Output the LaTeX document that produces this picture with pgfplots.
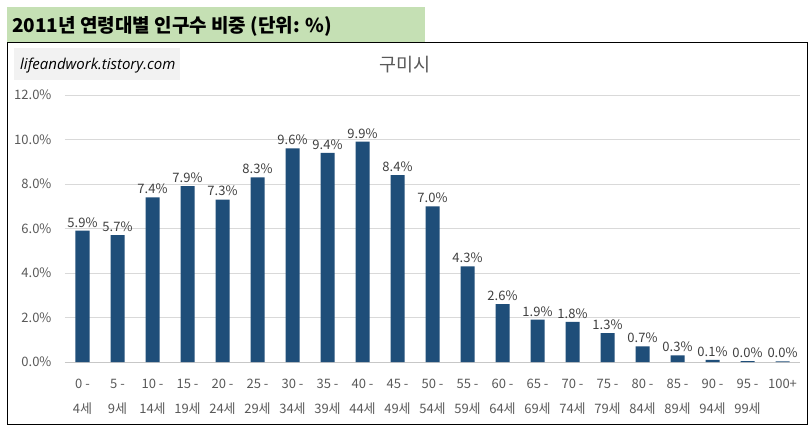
\documentclass[border=0pt]{standalone}
\usepackage{pgfplots}
\pgfplotsset{compat=1.18}
\usepackage{fontspec}
\setmainfont{Noto Sans CJK KR}
\newfontfamily\wmfont{Open Sans}
\definecolor{barblue}{HTML}{1F4E79}
\definecolor{bannergreen}{HTML}{C5E0B4}
\definecolor{gridgray}{HTML}{D9D9D9}
\definecolor{labgray}{HTML}{595959}
\definecolor{datgray}{HTML}{404040}
\definecolor{wmgray}{HTML}{F2F2F2}
\begin{document}
\begin{tikzpicture}[x=1pt,y=1pt]
\path[use as bounding box] (0,0) rectangle (811,432);
\fill[white] (0,0) rectangle (811,432);
\fill[bannergreen] (7,389) rectangle (425,425);
\node[anchor=west,inner sep=0pt,font=\fontsize{19}{22}\selectfont\bfseries] at (12,406) {2011년 연령대별 인구수 비중 (단위: \%)};
\draw[black,line width=1pt] (7,8) rectangle (807,389);
\fill[wmgray] (14,352) rectangle (180,384);
\node[anchor=west,inner sep=0pt,font=\wmfont\itshape\fontsize{15}{18}\selectfont] at (20,366) {lifeandwork.tistory.com};
\node[font=\fontsize{18.5}{22}\selectfont,text=labgray] at (405,367) {구미시};
\begin{axis}[
  at={(65pt,70pt)}, anchor=south west,
  scale only axis, width=735pt, height=267pt,
  xmin=-0.5, xmax=20.5, ymin=0, ymax=12,
  axis line style={draw=none},
  axis x line*=bottom,
  ytick={0,2,4,6,8,10,12},
  ymajorgrids, grid style={gridgray, line width=0.8pt},
  major tick length=0pt,
  /pgf/number format/assume math mode=true,
  yticklabel={\pgfmathprintnumber[fixed,fixed zerofill,precision=1]{\tick}\%},
  yticklabel style={font=\fontsize{13}{15}\selectfont, text=labgray, xshift=-10pt},
  xtick={0,...,20},
  xticklabels={{0 -\\4세},{5 -\\9세},{10 -\\14세},{15 -\\19세},{20 -\\24세},{25 -\\29세},{30 -\\34세},{35 -\\39세},{40 -\\44세},{45 -\\49세},{50 -\\54세},{55 -\\59세},{60 -\\64세},{65 -\\69세},{70 -\\74세},{75 -\\79세},{80 -\\84세},{85 -\\89세},{90 -\\94세},{95 -\\99세},{100+\\\phantom{0}}},
  xticklabel style={font=\fontsize{13}{25}\selectfont, text=labgray, align=center, yshift=-14pt},
  ybar, bar width=14pt,
  nodes near coords={\pgfmathprintnumber[fixed,fixed zerofill,precision=1]{\pgfplotspointmeta}\%},
  nodes near coords style={font=\fontsize{13}{15}\selectfont, text=datgray, /pgf/number format/assume math mode=true},
  clip=false,
]
\draw[gridgray!80!gray, line width=0.8pt] (axis cs:-0.5,0) -- (axis cs:20.5,0);
\addplot[fill=barblue, draw=none] coordinates {
(0,5.9) (1,5.7) (2,7.4) (3,7.9) (4,7.3) (5,8.3) (6,9.6) (7,9.4) (8,9.9) (9,8.4)
(10,7.0) (11,4.3) (12,2.6) (13,1.9) (14,1.8) (15,1.3) (16,0.7) (17,0.3) (18,0.1) (19,0.04) (20,0.03)
};
\end{axis}
\end{tikzpicture}
\end{document}
